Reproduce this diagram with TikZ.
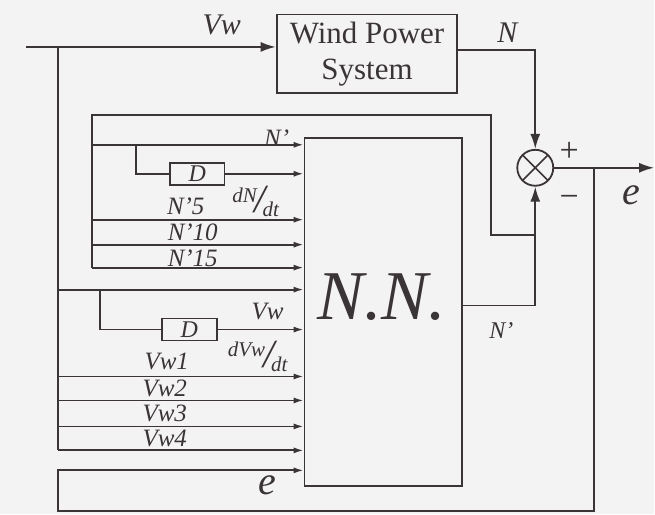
\documentclass[tikz,border=0pt]{standalone}
\usepackage{fontspec}
\setmainfont{Liberation Serif}
\usetikzlibrary{arrows.meta, positioning, calc}
\definecolor{InkGray}{HTML}{3A3436}
\definecolor{PaperGray}{HTML}{F3F3F4}
\newcommand{\slashfrac}[2]{\raisebox{0.5em}{#1}\kern-0.1em{\fontsize{40}{40}\selectfont/}\kern-0.15em\raisebox{-0.2em}{#2}}
\tikzset{
  blk/.style={draw=InkGray, line width=1.8pt, align=center, inner sep=0pt,
    text=InkGray},
  dbox/.style={draw=InkGray, line width=1.6pt, minimum width=55pt,
    minimum height=22pt, inner sep=0pt, text=InkGray,
    font=\fontsize{24}{24}\selectfont\itshape},
  wire/.style={line width=1.8pt, draw=InkGray},
  sig/.style={-{Latex[length=10pt, width=6pt]}, line width=1.8pt, draw=InkGray},
  bigsig/.style={-{Latex[length=15pt, width=10pt]}, line width=1.8pt, draw=InkGray},
  lbl/.style={inner sep=0pt, text=InkGray, font=\fontsize{25}{25}\selectfont\itshape},
}
\begin{document}
\begin{tikzpicture}[x=1pt, y=-1pt]
  \fill[PaperGray] (0,0) rectangle (655,515);
  % blocks
  \node[blk, minimum width=181pt, minimum height=79pt,
    font=\fontsize{31}{36}\selectfont] (wps) at (367.5,54) {Wind Power\\System};
  \node[blk, minimum width=158pt, minimum height=349pt] (nn) at (384,312.5) {};
  \node[lbl, font=\fontsize{70}{70}\selectfont\itshape] (nnlbl) at (382,298) {N.N.};
  \node[blk, circle, minimum size=36pt, path picture={
      \draw[line width=1.6pt, InkGray]
        (path picture bounding box.north west) -- (path picture bounding box.south east)
        (path picture bounding box.north east) -- (path picture bounding box.south west);
    }] (sum) at (536,168) {};
  \node[dbox] (dN) at (197.5,174) {D};
  \node[dbox] (dV) at (189.5,330) {D};

  % wind input and plant
  \coordinate (vin) at (26,47);
  \coordinate (vtap) at (58,47);
  \draw[bigsig] (vin) -- (vin -| wps.west);
  \draw[bigsig] (wps.east |- 0,50) -| (sum.north);
  \draw[bigsig] (nn.east |- 0,306) -| (sum.south);
  \draw[bigsig] (sum.east) -- (655,168);

  % N' feedback bus
  \coordinate (nfb) at (92,115);
  \coordinate (nb0) at (92,145);
  \draw[wire] (92,268) -- (nfb) -| (492,235) -- (536,235);
  \draw[sig] (nb0) -- (nb0 -| nn.west);
  \draw[wire] (136,145) |- (dN.west);
  \draw[sig] (dN.east) -- (dN.east -| nn.west);
  \foreach \yy/\nm in {220/5, 245/10, 268/15} {
    \coordinate (nb\nm) at (92,\yy);
    \draw[sig] (nb\nm) -- (nb\nm -| nn.west);
  }

  % Vw bus
  \draw[wire] (vtap) -- (58,451);
  \coordinate (vb0) at (58,290);
  \draw[sig] (vb0) -- (vb0 -| nn.west);
  \draw[wire] (100,290) |- (dV.west);
  \draw[sig] (dV.east) -- (dV.east -| nn.west);
  \foreach \yy/\nm in {377/1, 401/2, 427/3, 451/4} {
    \coordinate (vb\nm) at (58,\yy);
    \draw[sig] (vb\nm) -- (vb\nm -| nn.west);
  }

  % error feedback
  \coordinate (etap) at (595,168);
  \draw[sig] (etap) |- (58,512) |- (nn.west |- 0,471);

  % labels
  \node[lbl, font=\fontsize{30}{30}\selectfont\itshape] (lvw) at (222,25) {Vw};
  \node[lbl, font=\fontsize{30}{30}\selectfont\itshape] (ln) at (508,33) {N};
  \node[lbl, font=\fontsize{34}{34}\selectfont] (lplus) at (570,152) {+};
  \node[lbl, font=\fontsize{34}{34}\selectfont] (lminus) at (570,202) {−};
  \node[lbl, font=\fontsize{40}{40}\selectfont\itshape] (le1) at (632,196) {e};
  \node[lbl, font=\fontsize{40}{40}\selectfont\itshape] (le2) at (268,486) {e};
  \node[lbl, font=\fontsize{24}{24}\selectfont\itshape] (lnout) at (502,331) {N’};
  \node[lbl] (lnp) at (277,138) {N’};
  \node[lbl, font=\fontsize{21}{21}\selectfont\itshape] (ldn) at (256,202) {\slashfrac{dN}{dt}};
  \node[lbl] (ln5) at (186,207) {N’5};
  \node[lbl] (ln10) at (193,233) {N’10};
  \node[lbl] (ln15) at (193,259) {N’15};
  \node[lbl] (lvw0) at (268,312) {Vw};
  \node[lbl, font=\fontsize{21}{21}\selectfont\itshape] (ldv) at (258,357) {\slashfrac{dVw}{dt}};
  \node[lbl] (lvw1) at (167,362) {Vw1};
  \node[lbl] (lvw2) at (165,389) {Vw2};
  \node[lbl] (lvw3) at (165,414) {Vw3};
  \node[lbl] (lvw4) at (165,439) {Vw4};
\end{tikzpicture}
\end{document}
